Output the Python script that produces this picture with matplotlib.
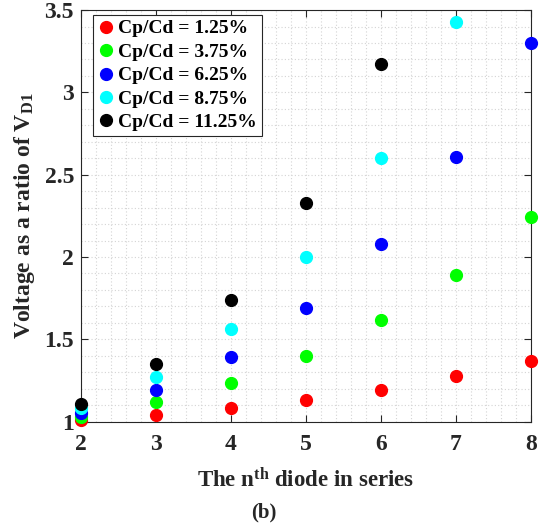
import matplotlib
matplotlib.use("Agg")
import matplotlib.pyplot as plt
from matplotlib.ticker import MultipleLocator

plt.rcParams['font.family'] = ['Liberation Serif', 'DejaVu Serif']
plt.rcParams['font.weight'] = 'bold'
plt.rcParams['axes.labelweight'] = 'bold'
plt.rcParams['mathtext.fontset'] = 'custom'
plt.rcParams['mathtext.rm'] = 'Liberation Serif:bold'
plt.rcParams['mathtext.bf'] = 'Liberation Serif:bold'
plt.rcParams['mathtext.it'] = 'Liberation Serif:bold:italic'

# data
n_diode = [2, 3, 4, 5, 6, 7, 8]
labels = ['Cp/Cd = 1.25%', 'Cp/Cd = 3.75%', 'Cp/Cd = 6.25%',
          'Cp/Cd = 8.75%', 'Cp/Cd = 11.25%']
colors = ['#ff0000', '#00ff00', '#0000ff', '#00ffff', '#000000']
r1 = [1.01, 1.04, 1.08, 1.13, 1.19, 1.28, 1.37]
r2 = [1.03, 1.12, 1.235, 1.40, 1.62, 1.89, 2.24]
r3 = [1.05, 1.195, 1.395, 1.69, 2.08, 2.61, 3.30]
r4 = [1.08, 1.27, 1.565, 2.00, 2.60, 3.43]
r5 = [1.11, 1.35, 1.74, 2.33, 3.17]
series = [r1, r2, r3, r4, r5]

fig = plt.figure(figsize=(5.52, 5.29), dpi=100)
ax = fig.add_axes([0.1467, 0.203, 0.8153, 0.778])

for vals, c, lab in zip(series, colors, labels):
    ax.plot(n_diode[:len(vals)], vals, 'o', color=c, markersize=8.5,
            label=lab, clip_on=False, zorder=3)

ax.set_xlim(2, 8)
ax.set_ylim(1, 3.5)
ax.xaxis.set_major_locator(MultipleLocator(1))
ax.xaxis.set_minor_locator(MultipleLocator(0.2))
ax.yaxis.set_major_locator(MultipleLocator(0.5))
ax.yaxis.set_minor_locator(MultipleLocator(0.1))
ax.set_yticks([1, 1.5, 2, 2.5, 3, 3.5])
ax.set_yticklabels(['1', '1.5', '2', '2.5', '3', '3.5'])

# minor dotted grid, light gray
ax.grid(which='both', linestyle=(0, (1, 2)), color='#d4d4d4', linewidth=0.8)
ax.set_axisbelow(True)
ax.tick_params(which='major', direction='in', top=True, right=True,
               length=5, width=0.8, colors='#262626', labelsize=17, pad=5)
ax.tick_params(axis='x', which='major', pad=9)
ax.tick_params(which='minor', length=0)
for s in ax.spines.values():
    s.set_color('#262626')
    s.set_linewidth(0.8)

ax.set_xlabel(r'The n$^{\mathrm{th}}$ diode in series', fontsize=16.5,
              color='#262626', labelpad=9)
ax.set_ylabel(r'Voltage as a ratio of V$_{\mathrm{D1}}$', fontsize=17,
              color='#262626', labelpad=5)

leg = ax.legend(loc='upper left', fontsize=14, handletextpad=0.25,
                handlelength=0.8, borderpad=0.25, labelspacing=0.3,
                borderaxespad=0, fancybox=False, framealpha=1,
                edgecolor='#262626', bbox_to_anchor=(0.027, 0.988))
leg.get_frame().set_linewidth(0.8)

fig.text(0.478, 0.032, '(b)', ha='center', va='center', fontsize=15,
         fontweight='bold', color='#262626')

fig.savefig('out.png', dpi=100)
